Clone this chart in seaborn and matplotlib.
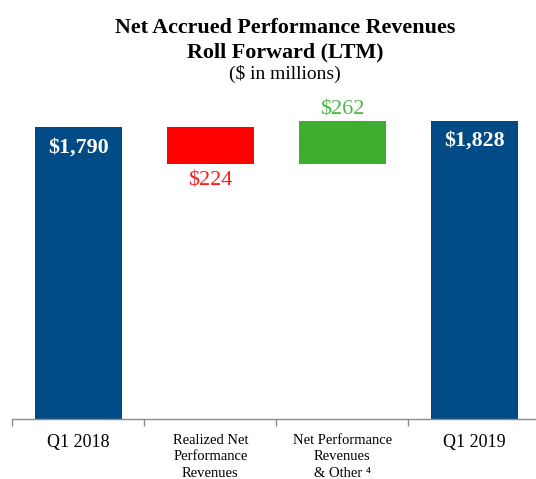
import numpy as np
import seaborn as sns
import matplotlib.pyplot as plt

# data
categories = ['Q1 2018', 'Realized Net\nPerformance\nRevenues',
              'Net Performance\nRevenues\n& Other \u2074', 'Q1 2019']
changes = [1790, -224, 262, 1828]
kinds = ['total', 'delta', 'delta', 'total']
value_labels = ['$1,790', '$224', '$262', '$1,828']

sns.set_style('white')
plt.rcParams['font.family'] = ['Liberation Serif', 'DejaVu Serif']
plt.rcParams['text.color'] = 'black'
plt.rcParams['xtick.color'] = 'black'
plt.rcParams['xtick.labelcolor'] = 'black'

# waterfall bottoms / heights
bottoms, heights = [], []
running = 0
for v, k in zip(changes, kinds):
    if k == 'total':
        bottoms.append(0)
        heights.append(v)
        running = v
    else:
        new = running + v
        bottoms.append(min(running, new))
        heights.append(abs(v))
        running = new

colors = ['#004A86', '#FF0000', '#3DAE2F', '#004A86']
text_colors = ['white', '#FF1A1A', '#4DB848', 'white']

fig = plt.figure(figsize=(5.36, 4.79), dpi=100)
ax = fig.add_axes([0.023, 0.1253, 0.985, 0.68])

x = np.arange(len(categories))
ax.bar(x, heights, bottom=bottoms, width=0.66, color=colors, linewidth=0)

for i, (b, h, k) in enumerate(zip(bottoms, heights, kinds)):
    if k == 'total':
        ax.text(i, b + h - 60, value_labels[i], ha='center', va='top',
                color=text_colors[i], fontsize=15.8, fontweight='bold')
    elif changes[i] < 0:
        ax.text(i, b - 45, value_labels[i], ha='center', va='top',
                color=text_colors[i], fontsize=16)
    else:
        ax.text(i, b + h + 12, value_labels[i], ha='center', va='bottom',
                color=text_colors[i], fontsize=16)

ax.set_xlim(-0.5, len(categories) - 0.5)
ax.set_ylim(0, 2000)
ax.set_yticks([])
ax.set_xticks(x)
ax.set_xticklabels(categories)
for lbl, cat in zip(ax.get_xticklabels(), categories):
    if '\n' in cat:
        lbl.set_fontsize(10.5)
        lbl.set_linespacing(1.32)
    else:
        lbl.set_fontsize(13)
ax.set_xticks(np.arange(-0.5, len(categories)), minor=True)
ax.tick_params(axis='x', which='major', length=0, pad=11)
ax.tick_params(axis='x', which='minor', length=5, width=1, color='#8C8C8C',
               direction='out', bottom=True)
for s in ['top', 'right', 'left']:
    ax.spines[s].set_visible(False)
ax.spines['bottom'].set_color('#8C8C8C')
ax.spines['bottom'].set_linewidth(1)

tx = 285 / 536
fig.text(tx, 1 - 28 / 479, 'Net Accrued Performance Revenues', ha='center',
         va='center', fontsize=15.8, fontweight='bold')
fig.text(tx, 1 - 52 / 479, 'Roll Forward (LTM)', ha='center',
         va='center', fontsize=15.8, fontweight='bold')
fig.text(tx, 1 - 74 / 479, '($ in millions)', ha='center',
         va='center', fontsize=14)

fig.savefig('out.png', dpi=100)
